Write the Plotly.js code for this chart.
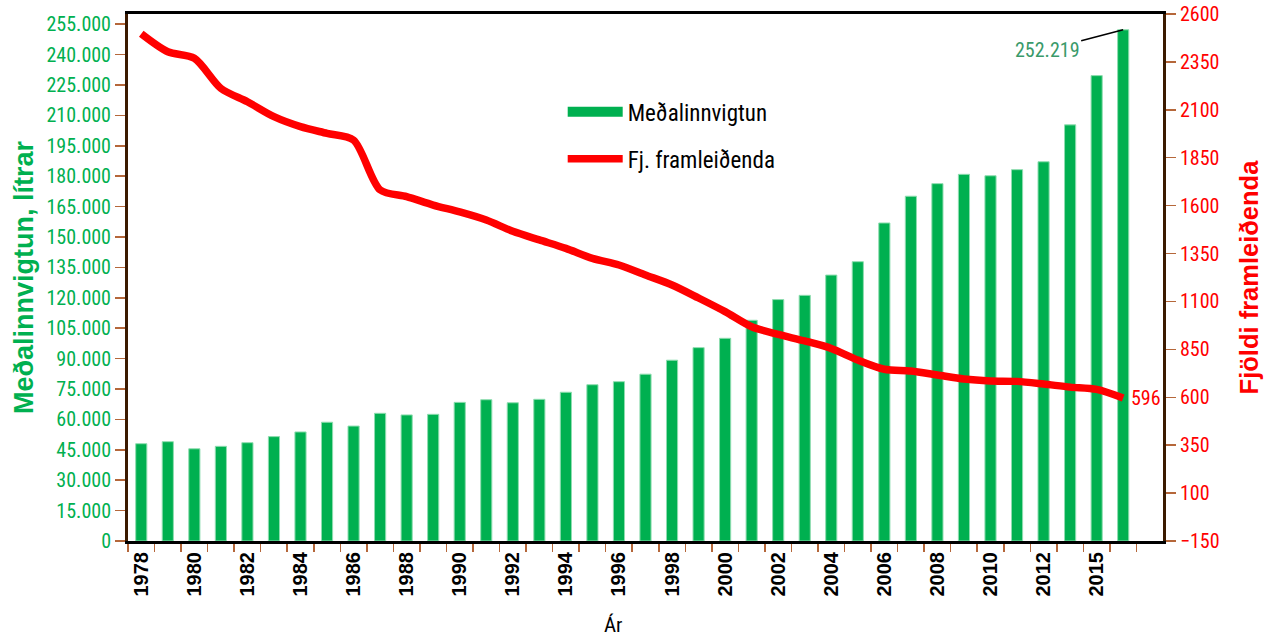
<!DOCTYPE html>
<html>
<head>
<meta charset="utf-8">
<script src="https://cdn.plot.ly/plotly-3.0.1.min.js"></script>
<style>html,body{margin:0;padding:0;background:#fff;}#chart{width:1269px;height:636px;}</style>
</head>
<body>
<div id="chart"></div>
<script>
const years = ['1978','1979','1980','1981','1982','1983','1984','1985','1986','1987','1988','1989','1990','1991','1992','1993','1994','1995','1996','1997','1998','1999','2000','2001','2002','2003','2004','2005','2006','2007','2008','2009','2010','2011','2012','2013','2015','2016'];
const xLabels = ['1978','','1980','','1982','','1984','','1986','','1988','','1990','','1992','','1994','','1996','','1998','','2000','','2002','','2004','','2006','','2008','','2010','','2012','','2015',''];
const avgIntake = [48000,49000,45500,46700,48500,51500,53800,58600,56700,63000,62200,62500,68400,69700,68200,69900,73400,77100,78600,82300,89200,95400,100000,108900,119100,121200,131200,137800,156900,170100,176300,180900,180200,183200,187100,205300,229600,252219];
const producers = [2497,2403,2369,2212,2142,2064,2012,1977,1942,1682,1647,1603,1567,1525,1466,1421,1377,1325,1290,1238,1186,1118,1047,968,928,894,855,794,746,737,716,695,685,683,669,653,641,596];
const leftTicks = [0,15000,30000,45000,60000,75000,90000,105000,120000,135000,150000,165000,180000,195000,210000,225000,240000,255000];
const leftTickText = ['0','15.000','30.000','45.000','60.000','75.000','90.000','105.000','120.000','135.000','150.000','165.000','180.000','195.000','210.000','225.000','240.000','255.000'];
const rightTicks = [-150,100,350,600,850,1100,1350,1600,1850,2100,2350,2600];
const seriesNames = ['Meðalinnvigtun','Fj. framleiðenda'];
const lastLabel = '252.219';

const narrow = '"Roboto Condensed", Roboto, sans-serif';
const bold = '"Liberation Sans", Arial, sans-serif';
const green = '#00B050';
const red = '#FF0000';
const tickCol = '#B5673A';
const last = years.length - 1;

const traces = [
  {type:'bar', name:seriesNames[0], x:years, y:avgIntake, yaxis:'y', showlegend:false,
   marker:{color:green, line:{color:'#8FDDB0', width:1}}},
  {type:'scatter', mode:'lines', name:seriesNames[0], x:[null], y:[null], yaxis:'y',
   line:{color:green, width:12}, legendgroup:'a', showlegend:true, hoverinfo:'skip'},
  {type:'scatter', mode:'lines', name:seriesNames[1], x:years, y:producers, yaxis:'y2',
   line:{color:red, width:7.5, shape:'spline', smoothing:0.8}, legendgroup:'b'}
];

const layout = {
  width:1269, height:636,
  margin:{l:128, r:106, t:14, b:95},
  paper_bgcolor:'#fff', plot_bgcolor:'#fff',
  bargap:0.58,
  showlegend:true,
  legend:{x:0.42, y:0.855, xanchor:'left', yanchor:'top', traceorder:'grouped', tracegroupgap:14,
          itemwidth:55,
          font:{family:narrow, size:23, color:'#000', stretch:'condensed'}, bgcolor:'rgba(0,0,0,0)'},
  xaxis:{type:'category', range:[-0.5,38.5], tickmode:'array', tickvals:years, ticktext:xLabels,
         tickson:'boundaries', ticks:'outside', ticklen:8, tickcolor:tickCol, tickwidth:1.5,
         tickangle:-90, tickfont:{family:bold, size:20, color:'#000', weight:'bold'},
         showline:true, linecolor:'#000', linewidth:3, mirror:true, showgrid:false, zeroline:false},
  yaxis:{range:[0,260000], tickmode:'array', tickvals:leftTicks, ticktext:leftTickText,
         ticks:'outside', ticklen:10, tickcolor:tickCol, tickwidth:1.5,
         tickfont:{family:narrow, size:20, color:green, stretch:'condensed'},
         showline:true, linecolor:'#3B1A00', linewidth:3, showgrid:false, zeroline:false,
         title:{text:'Meðalinnvigtun, lítrar', font:{family:bold, size:27, color:green, weight:'bold'}, standoff:6}},
  yaxis2:{overlaying:'y', side:'right', range:[-150,2600], tickmode:'array', tickvals:rightTicks,
         ticks:'outside', ticklen:10, tickcolor:tickCol, tickwidth:1.5,
         tickfont:{family:narrow, size:20, color:red, stretch:'condensed'},
         showline:true, linecolor:'#3B1A00', linewidth:3, showgrid:false, zeroline:false,
         title:{text:'Fjöldi framleiðenda', font:{family:bold, size:25.5, color:red, weight:'bold'}, standoff:22}},
  annotations:[
    {x:last, y:avgIntake[last], xref:'x', yref:'y',
     text:lastLabel, showarrow:true, arrowhead:0, arrowwidth:1.5, arrowcolor:'#000',
     ax:-76, ay:20, font:{family:narrow, size:20, color:'#3A9A6A', stretch:'condensed'}},
    {x:last, y:producers[last], xref:'x', yref:'y2',
     text:String(producers[last]), showarrow:false, xanchor:'left', xshift:6,
     font:{family:narrow, size:20, color:red, stretch:'condensed'}},
    {x:0.469, y:0, xref:'paper', yref:'paper', yanchor:'middle', yshift:-84, text:'Ár', showarrow:false,
     font:{family:narrow, size:21, color:'#000', stretch:'condensed'}}
  ]
};

Plotly.newPlot('chart', traces, layout, {displayModeBar:false, staticPlot:true});
</script>
</body>
</html>
